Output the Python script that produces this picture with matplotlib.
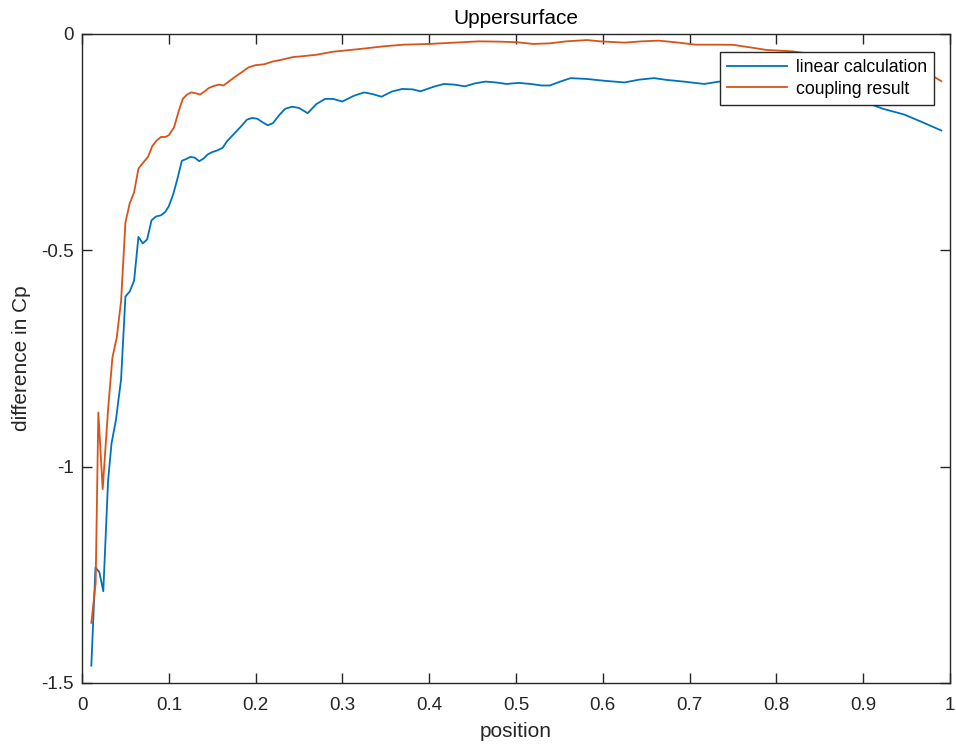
import matplotlib
matplotlib.use("Agg")
import matplotlib.pyplot as plt

plt.rcParams["font.family"] = ["Liberation Sans", "DejaVu Sans"]
plt.rcParams["axes.unicode_minus"] = False

linear_x = [
    0.0107, 0.0155, 0.020, 0.0245, 0.030, 0.034, 0.039, 0.045, 0.050, 0.055,
    0.060, 0.065, 0.070, 0.075, 0.080, 0.085, 0.091, 0.096, 0.100, 0.105,
    0.110, 0.115, 0.120, 0.125, 0.130, 0.135, 0.140, 0.145, 0.150, 0.156,
    0.162, 0.167, 0.175, 0.183, 0.190, 0.196, 0.202, 0.208, 0.214, 0.220,
    0.227, 0.234, 0.242, 0.250, 0.260, 0.270, 0.280, 0.289, 0.300, 0.313,
    0.325, 0.335, 0.345, 0.357, 0.369, 0.381, 0.390, 0.405, 0.417, 0.429,
    0.441, 0.453, 0.465, 0.477, 0.489, 0.503, 0.517, 0.529, 0.539, 0.551,
    0.563, 0.582, 0.601, 0.625, 0.642, 0.659, 0.673, 0.693, 0.717, 0.734,
    0.760, 0.790, 0.820, 0.850, 0.880, 0.908, 0.923, 0.947, 0.966, 0.990,
]
linear_y = [
    -1.460, -1.233, -1.244, -1.288, -1.033, -0.946, -0.893, -0.798, -0.607, -0.595,
    -0.570, -0.469, -0.484, -0.475, -0.431, -0.422, -0.419, -0.411, -0.398, -0.371,
    -0.334, -0.293, -0.289, -0.284, -0.286, -0.294, -0.288, -0.278, -0.273, -0.269,
    -0.263, -0.248, -0.231, -0.214, -0.198, -0.194, -0.196, -0.204, -0.211, -0.206,
    -0.188, -0.173, -0.168, -0.171, -0.183, -0.162, -0.150, -0.150, -0.156, -0.143,
    -0.135, -0.139, -0.145, -0.133, -0.127, -0.128, -0.1325, -0.122, -0.1155, -0.117,
    -0.121, -0.114, -0.110, -0.112, -0.1155, -0.113, -0.1155, -0.119, -0.119, -0.110,
    -0.102, -0.104, -0.108, -0.112, -0.1055, -0.102, -0.106, -0.110, -0.1155, -0.110,
    -0.112, -0.118, -0.127, -0.138, -0.150, -0.162, -0.173, -0.186, -0.202, -0.223,
]

coupling_x = [
    0.0107, 0.0157, 0.0188, 0.0238, 0.030, 0.035, 0.040, 0.045, 0.050, 0.055,
    0.060, 0.065, 0.071, 0.076, 0.081, 0.086, 0.091, 0.096, 0.100, 0.106,
    0.111, 0.116, 0.121, 0.126, 0.131, 0.136, 0.141, 0.146, 0.152, 0.158,
    0.163, 0.169, 0.177, 0.185, 0.192, 0.200, 0.210, 0.219, 0.231, 0.244,
    0.251, 0.270, 0.289, 0.309, 0.328, 0.347, 0.371, 0.400, 0.429, 0.457,
    0.481, 0.501, 0.520, 0.539, 0.558, 0.582, 0.597, 0.625, 0.645, 0.664,
    0.683, 0.707, 0.731, 0.750, 0.770, 0.789, 0.818, 0.832, 0.860, 0.890,
    0.920, 0.950, 0.980, 0.990,
]
coupling_y = [
    -1.361, -1.269, -0.875, -1.052, -0.868, -0.748, -0.702, -0.617, -0.436, -0.391,
    -0.366, -0.311, -0.296, -0.284, -0.259, -0.246, -0.238, -0.238, -0.234, -0.216,
    -0.181, -0.150, -0.140, -0.135, -0.137, -0.140, -0.133, -0.125, -0.120, -0.117,
    -0.119, -0.110, -0.098, -0.087, -0.077, -0.072, -0.070, -0.064, -0.059, -0.053,
    -0.052, -0.048, -0.041, -0.037, -0.033, -0.0285, -0.0247, -0.023, -0.020, -0.017,
    -0.0177, -0.019, -0.023, -0.0216, -0.017, -0.014, -0.017, -0.020, -0.017, -0.0154,
    -0.019, -0.0247, -0.0247, -0.025, -0.031, -0.037, -0.040, -0.044, -0.050, -0.058,
    -0.068, -0.080, -0.097, -0.109,
]

x_ticks = [0, 0.1, 0.2, 0.3, 0.4, 0.5, 0.6, 0.7, 0.8, 0.9, 1]
x_tick_labels = ["0", "0.1", "0.2", "0.3", "0.4", "0.5", "0.6", "0.7", "0.8", "0.9", "1"]
y_ticks = [-1.5, -1, -0.5, 0]
y_tick_labels = ["-1.5", "-1", "-0.5", "0"]

axis_color = "#262626"

fig = plt.figure(figsize=(9.56, 7.47), dpi=100)
ax = fig.add_axes([0.0858, 0.0857, 0.9079, 0.8688])
ax.plot(linear_x, linear_y, color="#0072BD", lw=1.3, label="linear calculation")
ax.plot(coupling_x, coupling_y, color="#D95319", lw=1.3, label="coupling result")

ax.set_xlim(0, 1)
ax.set_ylim(-1.5, 0)
ax.set_xticks(x_ticks)
ax.set_xticklabels(x_tick_labels)
ax.set_yticks(y_ticks)
ax.set_yticklabels(y_tick_labels)
ax.tick_params(direction="in", length=7, width=1, colors=axis_color, labelsize=13.5,
               top=True, right=True)
ax.tick_params(axis="x", pad=10)
ax.tick_params(axis="y", pad=6)
for spine in ax.spines.values():
    spine.set_color(axis_color)
    spine.set_linewidth(1)

ax.set_title("Uppersurface", fontsize=15, color="black", pad=7)
ax.set_xlabel("position", fontsize=15, color=axis_color, labelpad=6)
ax.set_ylabel("difference in Cp", fontsize=15, color=axis_color, labelpad=7)

leg = ax.legend(loc="upper right", bbox_to_anchor=(0.9815, 0.972), fontsize=12.7,
                frameon=True, fancybox=False, framealpha=1, edgecolor=axis_color,
                borderpad=0.4, handlelength=3.4, handletextpad=0.5, labelspacing=0.25,
                borderaxespad=0)
leg.get_frame().set_linewidth(1)

fig.savefig("out.png", dpi=100, facecolor="white")
plt.close(fig)
